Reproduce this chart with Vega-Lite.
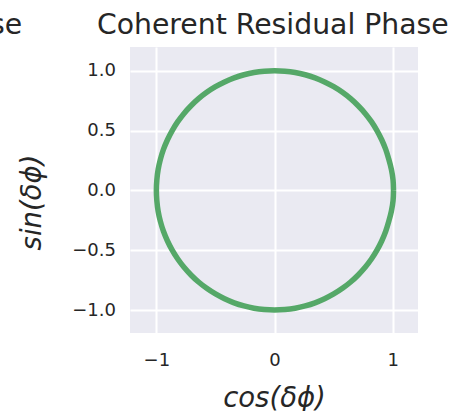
{
  "$schema": "https://vega.github.io/schema/vega-lite/v6.json",
  "autosize": {"type": "none"},
  "padding": {"left": 130, "top": 47, "right": 31, "bottom": 78},
  "width": 288,
  "height": 286,
  "background": "white",
  "title": {
    "text": "se\u00a0\u00a0\u00a0\u00a0\u00a0\u00a0\u00a0\u00a0\u200aCoherent Residual Phase",
    "anchor": "start",
    "frame": "group",
    "dx": -140,
    "dy": 27,
    "offset": 12,
    "baseline": "alphabetic",
    "font": "DejaVu Sans",
    "fontSize": 28.3,
    "fontWeight": "normal",
    "color": "#262626"
  },
  "data": {
    "values": [
      {"k": 0, "c": 1.006, "s": 0.000},
      {"k": 1, "c": 1.002, "s": 0.087},
      {"k": 2, "c": 0.988, "s": 0.174},
      {"k": 3, "c": 0.966, "s": 0.259},
      {"k": 4, "c": 0.940, "s": 0.342},
      {"k": 5, "c": 0.906, "s": 0.423},
      {"k": 6, "c": 0.866, "s": 0.500},
      {"k": 7, "c": 0.819, "s": 0.574},
      {"k": 8, "c": 0.766, "s": 0.643},
      {"k": 9, "c": 0.707, "s": 0.707},
      {"k": 10, "c": 0.643, "s": 0.766},
      {"k": 11, "c": 0.574, "s": 0.819},
      {"k": 12, "c": 0.500, "s": 0.866},
      {"k": 13, "c": 0.423, "s": 0.906},
      {"k": 14, "c": 0.342, "s": 0.940},
      {"k": 15, "c": 0.259, "s": 0.966},
      {"k": 16, "c": 0.174, "s": 0.985},
      {"k": 17, "c": 0.087, "s": 0.996},
      {"k": 18, "c": 0.000, "s": 1.000},
      {"k": 19, "c": -0.087, "s": 0.996},
      {"k": 20, "c": -0.174, "s": 0.985},
      {"k": 21, "c": -0.259, "s": 0.966},
      {"k": 22, "c": -0.342, "s": 0.940},
      {"k": 23, "c": -0.423, "s": 0.906},
      {"k": 24, "c": -0.500, "s": 0.866},
      {"k": 25, "c": -0.574, "s": 0.819},
      {"k": 26, "c": -0.643, "s": 0.766},
      {"k": 27, "c": -0.707, "s": 0.707},
      {"k": 28, "c": -0.766, "s": 0.643},
      {"k": 29, "c": -0.819, "s": 0.574},
      {"k": 30, "c": -0.866, "s": 0.500},
      {"k": 31, "c": -0.906, "s": 0.423},
      {"k": 32, "c": -0.940, "s": 0.342},
      {"k": 33, "c": -0.966, "s": 0.259},
      {"k": 34, "c": -0.985, "s": 0.174},
      {"k": 35, "c": -0.996, "s": 0.087},
      {"k": 36, "c": -1.000, "s": 0.000},
      {"k": 37, "c": -0.996, "s": -0.087},
      {"k": 38, "c": -0.985, "s": -0.174},
      {"k": 39, "c": -0.966, "s": -0.259},
      {"k": 40, "c": -0.940, "s": -0.342},
      {"k": 41, "c": -0.906, "s": -0.423},
      {"k": 42, "c": -0.866, "s": -0.500},
      {"k": 43, "c": -0.819, "s": -0.574},
      {"k": 44, "c": -0.766, "s": -0.643},
      {"k": 45, "c": -0.707, "s": -0.707},
      {"k": 46, "c": -0.643, "s": -0.766},
      {"k": 47, "c": -0.574, "s": -0.819},
      {"k": 48, "c": -0.500, "s": -0.866},
      {"k": 49, "c": -0.423, "s": -0.906},
      {"k": 50, "c": -0.342, "s": -0.940},
      {"k": 51, "c": -0.259, "s": -0.966},
      {"k": 52, "c": -0.174, "s": -0.985},
      {"k": 53, "c": -0.087, "s": -0.996},
      {"k": 54, "c": 0.000, "s": -1.000},
      {"k": 55, "c": 0.087, "s": -0.996},
      {"k": 56, "c": 0.174, "s": -0.985},
      {"k": 57, "c": 0.259, "s": -0.966},
      {"k": 58, "c": 0.342, "s": -0.940},
      {"k": 59, "c": 0.423, "s": -0.906},
      {"k": 60, "c": 0.500, "s": -0.866},
      {"k": 61, "c": 0.574, "s": -0.819},
      {"k": 62, "c": 0.643, "s": -0.766},
      {"k": 63, "c": 0.707, "s": -0.707},
      {"k": 64, "c": 0.766, "s": -0.643},
      {"k": 65, "c": 0.819, "s": -0.574},
      {"k": 66, "c": 0.866, "s": -0.500},
      {"k": 67, "c": 0.906, "s": -0.423},
      {"k": 68, "c": 0.940, "s": -0.342},
      {"k": 69, "c": 0.966, "s": -0.259},
      {"k": 70, "c": 0.988, "s": -0.174},
      {"k": 71, "c": 1.002, "s": -0.087},
      {"k": 72, "c": 1.006, "s": 0.000}
    ]
  },
  "mark": {
    "type": "line",
    "color": "#55a868",
    "strokeWidth": 5.5,
    "interpolate": "cardinal"
  },
  "encoding": {
    "x": {
      "field": "c",
      "type": "quantitative",
      "scale": {"domain": [-1.223, 1.213], "nice": false, "zero": false},
      "axis": {"values": [-1, 0, 1], "format": "d", "title": "cos(δϕ)", "labelPadding": 18, "titlePadding": 15}
    },
    "y": {
      "field": "s",
      "type": "quantitative",
      "scale": {"domain": [-1.192, 1.198], "nice": false, "zero": false},
      "axis": {"values": [-1, -0.5, 0, 0.5, 1], "format": ".1f", "title": "sin(δϕ)", "labelPadding": 14.5, "titlePadding": 25, "titleY": 155}
    },
    "order": {"field": "k", "type": "quantitative"}
  },
  "config": {
    "view": {"fill": "#EAEAF2", "stroke": null},
    "axis": {
      "domain": false,
      "ticks": false,
      "gridColor": "#ffffff",
      "gridWidth": 2,
      "labelFont": "DejaVu Sans",
      "labelFontSize": 18,
      "labelColor": "#262626",
      "titleFont": "DejaVu Sans",
      "titleFontStyle": "italic",
      "titleFontWeight": "normal",
      "titleFontSize": 27.5,
      "titleColor": "#262626"
    }
  }
}
